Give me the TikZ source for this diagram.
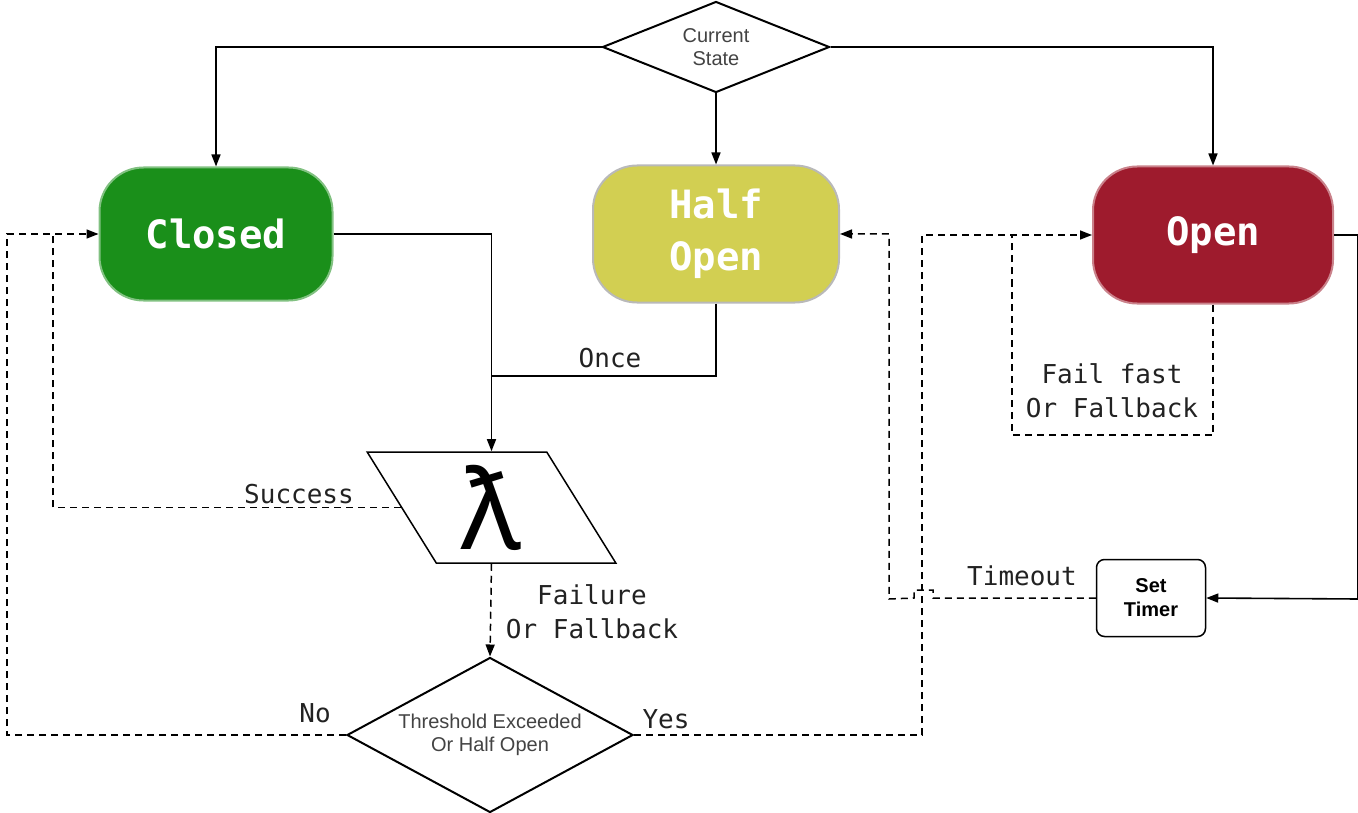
\documentclass[tikz,border=0pt]{standalone}
\usepackage{fontspec}
\setmainfont{Liberation Sans}
\newfontfamily\monof{DejaVu Sans Mono}
\newfontfamily\lamf{Noto Sans}
\usetikzlibrary{shapes.geometric,arrows.meta}
\definecolor{cgreen}{RGB}{26,143,26}
\definecolor{cyellow}{RGB}{210,207,82}
\definecolor{cred}{RGB}{158,27,45}
\definecolor{ink}{RGB}{34,34,34}
\begin{document}
\begin{tikzpicture}[x=1pt,y=-1pt,
  line width=1.6pt,
  >={Triangle[length=12pt,width=9pt]},
  state/.style={rounded corners=44pt, inner sep=0, font=\monof\bfseries\fontsize{39}{52}\selectfont, text=white, align=center, line width=2pt},
  lbl/.style={font=\monof\fontsize{26}{34}\selectfont, text=ink, align=center, inner sep=0},
  dec/.style={diamond, draw, line width=2pt, inner sep=0, align=center, text=ink!85, font=\fontsize{20}{23}\selectfont},
  dsh/.style={dash pattern=on 7pt off 5pt, line width=1.5pt}
]
\useasboundingbox (0,0) rectangle (1358,813);

% nodes
\node[dec, aspect=2.5, minimum width=227pt, minimum height=91pt] (cs) at (716,47) {Current\\State};
\node[state, fill=cgreen, draw=cgreen!55!white, minimum width=233pt, minimum height=133pt] (closed) at (216,234) {Closed};
\node[state, fill=cyellow, draw=gray!55, minimum width=246pt, minimum height=137pt] (half) at (716,234) {Half\\Open};
\node[state, fill=cred, draw=cred!55!white, minimum width=240pt, minimum height=137pt] (open) at (1213,235) {Open};
\node[trapezium, draw, line width=1.5pt, trapezium left angle=114, trapezium right angle=66, trapezium stretches=true, minimum width=249pt, minimum height=111pt, inner sep=2pt, font=\lamf\bfseries\fontsize{110}{115}\selectfont] (lam) at (491.5,507.5) {ƛ};
\node[dec, aspect=1.845, minimum width=286pt, minimum height=155pt] (thr) at (490,735) {Threshold Exceeded\\Or Half Open};
\node[draw, rounded corners=8pt, line width=1.5pt, minimum width=109pt, minimum height=77pt, inner sep=0, align=center, font=\bfseries\fontsize{20}{24}\selectfont] (timer) at (1151,598) {Set\\Timer};

% helper coordinates
\coordinate (lamtop) at (lam.center |- lam.north);
\coordinate (lambot) at (lam.center |- lam.south);
\coordinate (join) at (lam.center |- 0,376);
\coordinate (sc) at (53,234);
\coordinate (nw) at (7,735);
\coordinate (ye) at (922,735);
\coordinate (ff) at (1012,435);
\coordinate (to) at (889,599);
\coordinate (orc) at (1358,599);

% solid connectors
\draw[->] (cs.west) -| (closed.north);
\draw[->] (cs.south) -- (half.north);
\draw[->] (cs.east) -| (open.north);
\draw[->] (closed.east) -| (lamtop);
\draw (half.south) |- (join);
\draw[->] (open.east) -| (orc) -- (timer.east);

% dashed connectors
\draw[dsh] (lam.west) -| (sc);
\draw[dsh,->] (thr.west) -- (nw) |- (closed.west);
\draw[dsh,->] (lambot) -- (thr.north);
\draw[dsh,->] (thr.east) -- (ye) |- (open.west);
\draw[dsh] (open.south) |- (ff) -- (ff |- open.west);
\draw[dsh,->] (timer.west) -- ([xshift=11pt]ye |- timer.west) -- ++(0,-8) -- ++(-19,0) -- ++(0,8) -- (to) |- (half.east);

% labels
\node[lbl] (once) at (610,358) {Once};
\node[lbl] (succ) at (299,494) {Success};
\node[lbl] (fail) at (592,612) {Failure\\Or Fallback};
\node[lbl] (no) at (315,713) {No};
\node[lbl] (yes) at (666,719) {Yes};
\node[lbl] (ffl) at (1112,391) {Fail fast\\Or Fallback};
\node[lbl] (tol) at (1022,576) {Timeout};
\end{tikzpicture}
\end{document}
